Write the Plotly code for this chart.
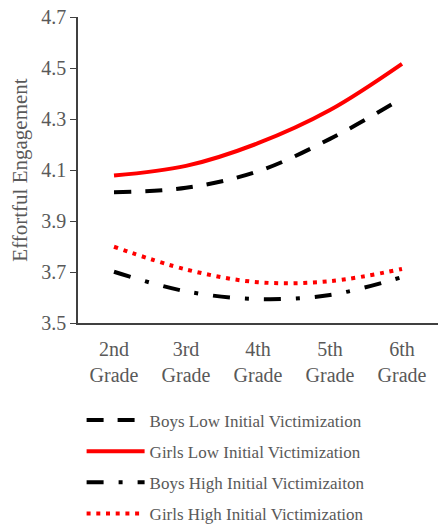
import plotly.graph_objects as go

grades = ["2nd<br>Grade", "3rd<br>Grade", "4th<br>Grade", "5th<br>Grade", "6th<br>Grade"]
boys_low = [4.013, 4.03, 4.095, 4.222, 4.381]
girls_low = [4.078, 4.116, 4.205, 4.335, 4.516]
boys_high = [3.701, 3.624, 3.594, 3.61, 3.68]
girls_high = [3.799, 3.71, 3.66, 3.664, 3.712]

names = ["Boys Low Initial Victimization", "Girls Low Initial Victimization",
         "Boys High Initial Victimizaiton", "Girls High Initial Victimization"]

FONT = "Liberation Serif, Times New Roman, serif"
GRAY = "#595959"

fig = go.Figure()
series = [
    (boys_low, names[0], "#000000", "17px,14px"),
    (girls_low, names[1], "#FF0000", "solid"),
    (boys_high, names[2], "#000000", "17px,15px,4px,15px"),
    (girls_high, names[3], "#FF0000", "4px,5.7px"),
]
for i, (vals, name, color, dash) in enumerate(series):
    fig.add_trace(go.Scatter(
        x=list(range(len(grades))), y=vals, name=name, mode="lines",
        line=dict(color=color, width=4, dash=dash, shape="spline", smoothing=1),
        legendgroup=f"g{i}",
    ))

fig.update_layout(
    width=438, height=560,
    margin=dict(l=78, r=0, t=17, b=237),
    paper_bgcolor="white", plot_bgcolor="white",
    font=dict(family=FONT, color=GRAY, size=20),
    showlegend=True,
    legend=dict(
        orientation="v", x=0.01, xanchor="left", y=-0.26, yanchor="top",
        font=dict(family=FONT, size=17, color=GRAY),
        itemwidth=58, tracegroupgap=6, bgcolor="rgba(0,0,0,0)",
    ),
)
fig.update_xaxes(
    tickmode="array", tickvals=list(range(len(grades))), ticktext=grades,
    range=[-0.5, 4.5], showline=True, linecolor="#404040", linewidth=2,
    showgrid=False, zeroline=False, ticks="", ticklabelstandoff=7,
    tickfont=dict(family=FONT, size=20, color=GRAY), automargin=False,
)
fig.update_yaxes(
    range=[3.5, 4.7], tickvals=[3.5, 3.7, 3.9, 4.1, 4.3, 4.5, 4.7],
    ticktext=["3.5", "3.7", "3.9", "4.1", "4.3", "4.5", "4.7"],
    showline=True, linecolor="#404040", linewidth=1.5, ticks="outside",
    ticklen=6, tickcolor="#404040", showgrid=False, zeroline=False,
    tickfont=dict(family=FONT, size=20, color=GRAY), automargin=False,
    title=dict(text="Effortful Engagement", font=dict(family=FONT, size=21, color=GRAY), standoff=8),
)

fig.write_html("out.html", config={"displayModeBar": False},
               post_script="document.body.style.margin='0';document.body.style.overflow='hidden';document.documentElement.style.overflow='hidden';")
